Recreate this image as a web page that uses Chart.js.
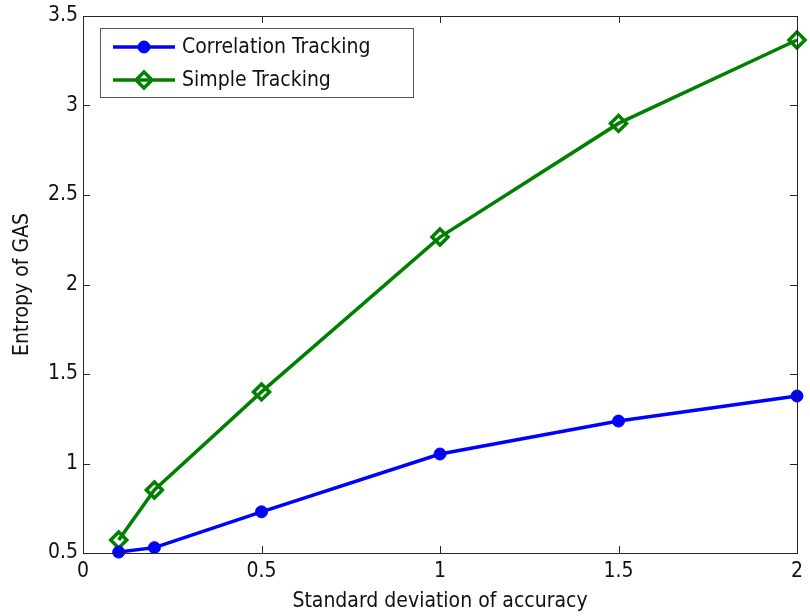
<!DOCTYPE html>
<html>
<head>
<meta charset="utf-8">
<script src="https://cdn.jsdelivr.net/npm/chart.js@4/dist/chart.umd.min.js"></script>
<style>
  html, body { margin: 0; padding: 0; background: #fff; }
  #wrap { width: 810px; height: 616px; }
</style>
</head>
<body>
<div id="wrap"><canvas id="graph" width="810" height="616"></canvas></div>
<script>
"use strict";
const SIGMA = [0.1, 0.2, 0.5, 1, 1.5, 2];
const CORRELATION = [0.505, 0.53, 0.73, 1.053, 1.237, 1.377];
const SIMPLE = [0.573, 0.852, 1.40, 2.265, 2.90, 3.366];
const X_TICKS = [0, 0.5, 1, 1.5, 2];
const Y_TICKS = [0.5, 1, 1.5, 2, 2.5, 3, 3.5];

const FONT = "'Liberation Sans Narrow', 'DejaVu Sans Condensed', sans-serif";

function pairs(xs, ys) {
    return xs.map(function (x, i) {
        return { x: x, y: ys[i] };
    });
}

// box round the axes with inward ticks on all four sides
const boxPlugin = {
    id: "box",
    afterDatasetsDraw(chart) {
        const ctx = chart.ctx;
        const a = chart.chartArea;
        const len = 7;
        ctx.save();
        ctx.strokeStyle = "#262626";
        ctx.lineWidth = 1;
        ctx.strokeRect(a.left + 0.5, a.top + 0.5, a.right - a.left, a.bottom - a.top);
        ctx.beginPath();
        chart.scales.x.ticks.forEach(function (t) {
            const px = Math.round(chart.scales.x.getPixelForValue(t.value)) + 0.5;
            ctx.moveTo(px, a.bottom);
            ctx.lineTo(px, a.bottom - len);
            ctx.moveTo(px, a.top);
            ctx.lineTo(px, a.top + len);
        });
        chart.scales.y.ticks.forEach(function (t) {
            const py = Math.round(chart.scales.y.getPixelForValue(t.value)) + 0.5;
            ctx.moveTo(a.left, py);
            ctx.lineTo(a.left + len, py);
            ctx.moveTo(a.right, py);
            ctx.lineTo(a.right - len, py);
        });
        ctx.stroke();
        ctx.restore();
    },
};

// legend drawn inside the axes, top left
const insideLegend = {
    id: "insideLegend",
    afterDraw(chart) {
        const ctx = chart.ctx;
        const a = chart.chartArea;
        const x0 = a.left + 17;
        const y0 = a.top + 12;
        const w = 313;
        const rowH = 33;
        const h = 69;
        ctx.save();
        ctx.fillStyle = "#fff";
        ctx.fillRect(x0, y0, w, h);
        ctx.strokeStyle = "#555";
        ctx.lineWidth = 1;
        ctx.strokeRect(x0 + 0.5, y0 + 0.5, w, h);
        chart.data.datasets.forEach(function (ds, i) {
            const cy = y0 + 19 + i * rowH;
            ctx.strokeStyle = ds.borderColor;
            ctx.lineWidth = ds.borderWidth;
            ctx.beginPath();
            ctx.moveTo(x0 + 13, cy);
            ctx.lineTo(x0 + 75, cy);
            ctx.stroke();
            ctx.fillStyle = ds.pointBackgroundColor;
            ctx.strokeStyle = ds.borderColor;
            ctx.lineWidth = ds.pointBorderWidth;
            Chart.helpers.drawPoint(ctx, {
                pointStyle: ds.pointStyle,
                radius: ds.pointRadius,
                rotation: 0,
                borderWidth: ds.pointBorderWidth,
            }, x0 + 44, cy);
            ctx.fillStyle = "#111";
            ctx.font = "21px " + FONT;
            ctx.textAlign = "left";
            ctx.textBaseline = "middle";
            ctx.fillText(ds.label, x0 + 82, cy + 1);
        });
        ctx.restore();
    },
};

function plain(value) {
    return String(value);
}

function drawGraph() {
    const data = {
        datasets: [
            {
                label: "Correlation Tracking",
                data: pairs(SIGMA, CORRELATION),
                borderColor: "#0000ff",
                backgroundColor: "#0000ff",
                pointBackgroundColor: "#0000ff",
                borderWidth: 3.5,
                pointStyle: "circle",
                pointRadius: 6,
                pointBorderWidth: 1,
            },
            {
                label: "Simple Tracking",
                data: pairs(SIGMA, SIMPLE),
                borderColor: "#008000",
                backgroundColor: "#008000",
                pointBackgroundColor: "rgba(255,255,255,0)",
                borderWidth: 3.5,
                pointStyle: "rectRot",
                pointRadius: 8,
                pointBorderWidth: 3.5,
            },
        ],
    };
    const tickFont = { family: FONT, size: 21 };
    const config = {
        type: "line",
        data,
        options: {
            animation: false,
            responsive: false,
            clip: false,
            layout: { padding: { top: 16, right: 13, left: 0, bottom: 0 } },
            plugins: {
                legend: { display: false },
                tooltip: { enabled: false },
            },
            scales: {
                x: {
                    type: "linear",
                    min: 0,
                    max: 2,
                    afterBuildTicks(scale) {
                        scale.ticks = X_TICKS.map(function (v) { return { value: v }; });
                    },
                    afterFit(scale) {
                        scale.height = 63;
                        scale.paddingLeft = 0;
                        scale.paddingRight = 0;
                    },
                    grid: { display: false, drawTicks: false },
                    border: { display: false },
                    ticks: { color: "#111", font: tickFont, padding: 6, maxRotation: 0, callback: plain },
                    title: {
                        display: true,
                        text: "Standard deviation of accuracy",
                        color: "#111",
                        font: tickFont,
                        padding: { top: 0, bottom: 2 },
                    },
                },
                y: {
                    type: "linear",
                    min: 0.5,
                    max: 3.5,
                    afterBuildTicks(scale) {
                        scale.ticks = Y_TICKS.map(function (v) { return { value: v }; });
                    },
                    afterFit(scale) {
                        scale.width = 83;
                        scale.paddingTop = 0;
                        scale.paddingBottom = 0;
                    },
                    grid: { display: false, drawTicks: false },
                    border: { display: false },
                    ticks: { color: "#111", font: tickFont, padding: 5, callback: plain },
                    title: {
                        display: true,
                        text: "Entropy of GAS",
                        color: "#111",
                        font: tickFont,
                        padding: { top: 10, bottom: 0 },
                    },
                },
            },
        },
        plugins: [boxPlugin, insideLegend],
    };
    new Chart(document.getElementById("graph"), config);
}

drawGraph();
</script>
</body>
</html>
